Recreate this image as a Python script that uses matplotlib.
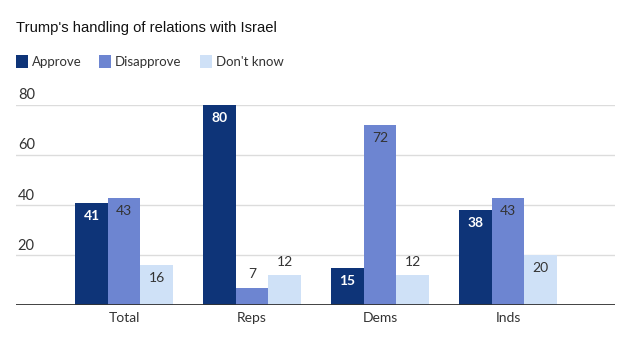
import matplotlib.pyplot as plt
from matplotlib.patches import Rectangle
import numpy as np

# data
groups = ['Total', 'Reps', 'Dems', 'Inds']
approve = [41, 80, 15, 38]
disapprove = [43, 7, 72, 43]
dont_know = [16, 12, 12, 20]

series_names = ['Approve', 'Disapprove', "Don't know"]
colors = ['#0e3478', '#6d85d1', '#cfe1f7']
label_colors = ['white', '#333333', '#333333']
yticks = [20, 40, 60, 80]

plt.rcParams['font.family'] = ['Lato', 'DejaVu Sans']

W, H = 631, 341
fig = plt.figure(figsize=(W / 100, H / 100), dpi=100)
ax = fig.add_axes([16 / W, 36 / H, 599 / W, 200 / H])

x = np.arange(len(groups))
width = 0.254
for i, (vals, col, lcol) in enumerate(zip([approve, disapprove, dont_know], colors, label_colors)):
    pos = x + (i - 1) * width
    ax.bar(pos, vals, width, color=col, zorder=3)
    for xp, v in zip(pos, vals):
        # tall bars get the label inside, short ones above
        if v >= 15:
            ax.annotate(str(v), (xp, v), xytext=(0, -9.5), textcoords='offset points',
                        ha='center', va='center', fontsize=10, color=lcol,
                        fontweight='bold' if i == 0 else 'normal', zorder=4)
        else:
            ax.annotate(str(v), (xp, v), xytext=(0, 9.5), textcoords='offset points',
                        ha='center', va='center', fontsize=10, color='#333333', zorder=4)

ax.set_xlim(-0.844, 3.836)
ax.set_ylim(0, 80)
ax.set_xticks(x)
ax.set_xticklabels(groups, fontsize=10, color='#333333')
ax.tick_params(axis='x', length=0, pad=5)
ax.set_yticks([])
for t in yticks:
    ax.axhline(t, color='#dcdcdc', lw=1, zorder=1)
    ax.text(0.003, t + 1, str(t), transform=ax.get_yaxis_transform(), ha='left', va='bottom',
            fontsize=10.5, color='#333333')
ax.axhline(0, color='#333333', lw=1.3, zorder=5)
for s in ax.spines.values():
    s.set_visible(False)

fig.text(16 / W, 1 - 28 / H, "Trump's handling of relations with Israel",
         fontsize=10.6, color='#111111', va='center', family=['Liberation Sans', 'DejaVu Sans'])

# legend drawn by hand so the spacing matches
legend_x = [16, 99, 200]
for lx, name, col in zip(legend_x, series_names, colors):
    fig.patches.append(Rectangle((lx / W, 1 - 68 / H), 12 / W, 13 / H, transform=fig.transFigure,
                                 facecolor=col, edgecolor='none'))
    fig.text((lx + 16) / W, 1 - 62 / H, name, fontsize=9.5, color='#333333', va='center')

fig.savefig('out.png', dpi=100, facecolor='white')
